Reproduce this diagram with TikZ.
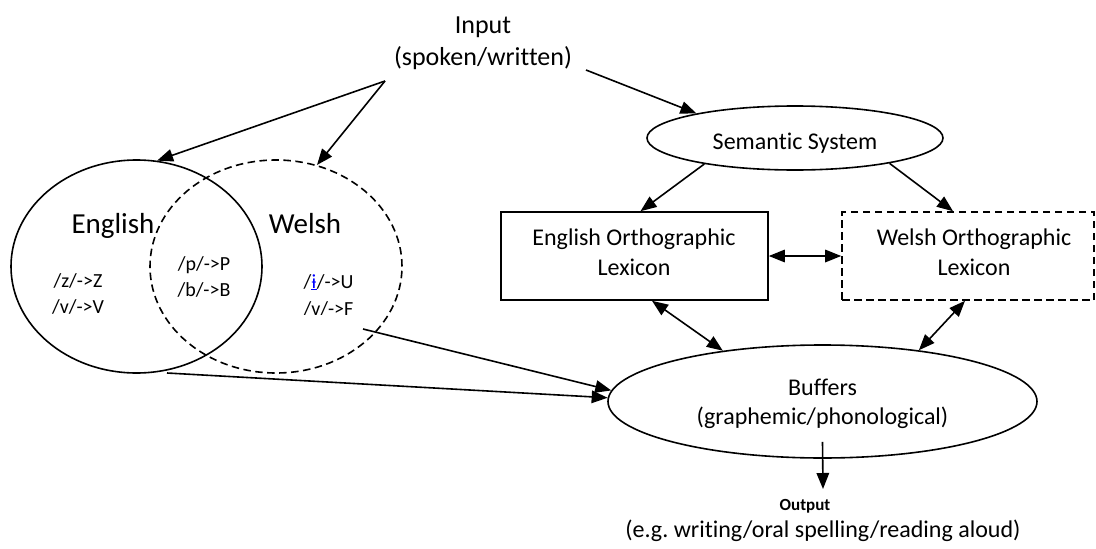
\documentclass[tikz,border=0pt]{standalone}
\usepackage{fontspec}
\setmainfont{Carlito}[Ligatures={NoCommon}]
\usetikzlibrary{shapes.geometric,arrows.meta,calc}
\definecolor{linkblue}{RGB}{0,0,255}
\newcommand\setfs[1]{\fontsize{#1}{#1}\selectfont}
\frenchspacing
\begin{document}
\begin{tikzpicture}[x=1pt,y=-1pt,
  line width=1.6pt,
  tip/.tip={Triangle[length=16pt,width=12.5pt]},
  arr/.style={-tip},
  darr/.style={tip-tip},
  dsh/.style={dash pattern=on 7.5pt off 4.5pt},
  lbl/.style={anchor=base, inner sep=0pt},
  oval/.style={draw, ellipse, inner sep=0pt},
  lexbox/.style={draw, rectangle, inner sep=0pt, minimum height=88pt}
]
\useasboundingbox (0,0) rectangle (1096,549);

% input
\node[lbl, font=\setfs{26}] (inp1) at (483,33) {Input};
\node[lbl, font=\setfs{26}] (inp2) at (483,65) {(spoken/written)};
\coordinate (fork) at (385,81);
\coordinate (inR) at (586,70);

% the two language ovals
\node[oval, minimum width=251pt, minimum height=213pt] (engc) at (136.5,266.5) {};
\node[oval, dsh, minimum width=252pt, minimum height=213pt] (welc) at (276,266.5) {};
\node[lbl, font=\setfs{29}] (engt) at (113,233) {English};
\node[lbl, font=\setfs{29}] (welt) at (305,233) {Welsh};
\node[lbl, font=\setfs{20}] (ez) at (78,287) {/z/->Z};
\node[lbl, font=\setfs{20}] (ev) at (78,313) {/v/->V};
\node[lbl, font=\setfs{20}] (sp) at (204,270) {/p/->P};
\node[lbl, font=\setfs{20}] (sb) at (204,296) {/b/->B};
\node[lbl, font=\setfs{20}] (wi) at (328.5,288) {/{\color{linkblue}\underline{ɨ}}/->U};
\begin{scope}
  \clip (280,295) rectangle (400,314);
  \node[lbl, font=\setfs{20}] (wv) at (328.5,315) {/v/->F};
\end{scope}
\coordinate (welO) at (363,329);
\coordinate (engO) at (167,373);

% semantic system and lexicons
\node[oval, minimum width=296pt, minimum height=64pt] (sem) at (795,138) {};
\node[lbl, font=\setfs{24}] (semt) at (795,149) {Semantic System};
\node[lexbox, minimum width=267pt] (eng) at (634.5,256) {};
\node[lexbox, dsh, minimum width=252pt] (wel) at (968,256) {};
\node[lbl, font=\setfs{24}] (engl1) at (634,245.7) {English Orthographic};
\node[lbl, font=\setfs{24}] (engl2) at (634,275) {Lexicon};
\node[lbl, font=\setfs{24}] (well1) at (974,245.7) {Welsh Orthographic};
\node[lbl, font=\setfs{24}] (well2) at (974,275) {Lexicon};

% buffers and output
\node[oval, minimum width=429pt, minimum height=113pt] (buf) at (822.5,401.5) {};
\node[lbl, font=\setfs{24}] (buf1) at (822.5,395.5) {Buffers};
\node[lbl, font=\setfs{24}] (buf2) at (822.5,424) {(graphemic/phonological)};
\node[lbl, font=\bfseries\setfs{17}] (out1) at (805,510) {Output};
\node[lbl, font=\setfs{24}] (out2) at (823,537) {(e.g. writing/oral spelling/reading aloud)};
\coordinate (outTip) at (823,489);

% connectors
\draw[arr] (fork) -- (engc.79);
\draw[arr] (fork) -- (welc.68);
\draw[arr] (inR) -- (sem.166);
\draw[arr] (sem.196) -- ($(eng.north)+(6,0)$);
\draw[arr] (sem.-15) -- ($(wel.north)+(-15,0)$);
\draw[darr] (eng.east) -- (wel.west);
\draw[darr] ($(eng.south)+(17.5,0)$) -- (buf.153.6);
\draw[darr] ($(wel.south)+(-3,0)$) -- (buf.28.2);
\draw[arr] (welO) -- (buf.177);
\draw[arr] (engO) -- (buf.179.3);
\draw[arr] ($(buf.south)+(0,-17)$) -- (outTip);
\end{tikzpicture}
\end{document}
